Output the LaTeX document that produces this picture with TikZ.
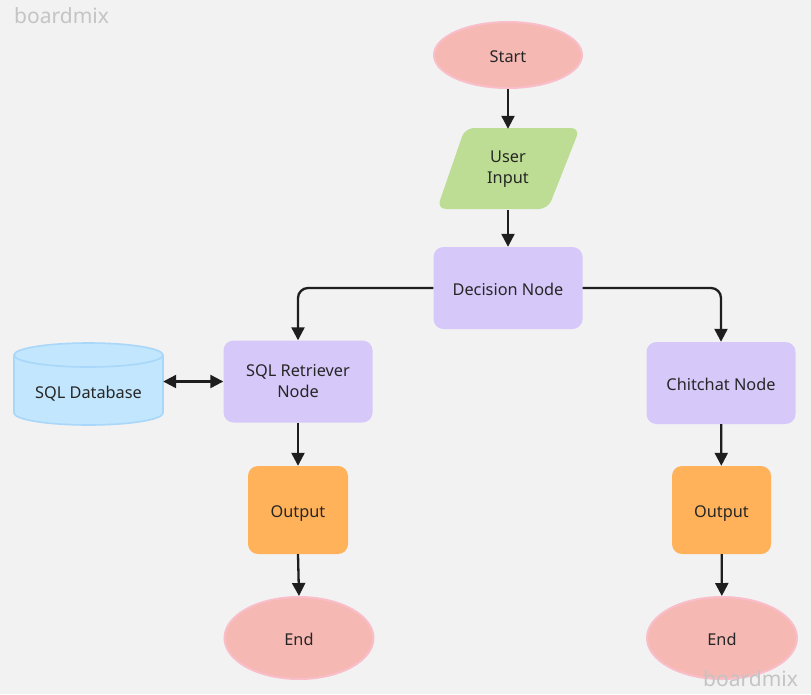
\documentclass[tikz,border=0pt]{standalone}
\usepackage{fontspec}
\setmainfont{Noto Sans}
\usetikzlibrary{arrows.meta,shapes.geometric}
\definecolor{bg}{HTML}{F2F2F2}
\definecolor{ink}{HTML}{262626}
\definecolor{wire}{HTML}{1E1E1E}
\definecolor{termfill}{HTML}{F5B8B3}
\definecolor{termline}{HTML}{F9BECA}
\definecolor{iofill}{HTML}{BEDD94}
\definecolor{procfill}{HTML}{D6C9F9}
\definecolor{outfill}{HTML}{FFB259}
\definecolor{dbfill}{HTML}{C2E6FD}
\definecolor{dbline}{HTML}{A8D7FA}
\definecolor{mark}{HTML}{C4C4C4}
\tikzset{
  x=1pt, y=-1pt,
  every node/.style={font=\fontsize{16.3}{21}\selectfont, text=ink, align=center},
  oneline/.style={text height=15pt, text depth=0.4pt},
  terminal/.style={ellipse, oneline, fill=termfill, draw=termline, line width=2pt,
    minimum width=146pt, minimum height=80pt, inner sep=0pt},
  procbox/.style={rectangle, rounded corners=10pt, fill=procfill,
    minimum width=149pt, minimum height=82pt},
  outbox/.style={rectangle, oneline, rounded corners=10pt, fill=outfill,
    minimum width=100pt, minimum height=88pt},
  plain/.style={inner sep=0pt, minimum width=1pt},
  flow/.style={draw=wire, line width=2.3pt, -{Triangle[length=13pt,width=13pt]}},
  wmark/.style={font=\fontsize{21}{23}\selectfont, text=mark, inner sep=0pt, anchor=base west}
}
\begin{document}
\begin{tikzpicture}
\fill[bg] (0,0) rectangle (811,694);
\useasboundingbox (0,0) rectangle (811,694);

% terminals
\node[terminal, minimum height=66pt, minimum width=148pt] (start) at (508,55) {Start};
\node[terminal, minimum height=82pt, minimum width=149pt] (endL) at (299,638) {End};
\node[terminal, minimum height=82pt, minimum width=150pt] (endR) at (722,638) {End};

% input parallelogram
\fill[iofill, rounded corners=9pt] (465,128) -- (580,128) -- (548,209) -- (437,209) -- cycle;
\node[plain, minimum height=81pt] (input) at (508,169.5) {User\\Input};

% process boxes
\node[procbox, oneline] (dec) at (508,288) {Decision Node};
\node[procbox] (sql) at (298,381.5) {SQL Retriever\\Node};
\node[procbox, oneline] (chat) at (721,383) {Chitchat Node};

% outputs
\node[outbox] (outL) at (298,510) {Output};
\node[outbox, minimum width=99pt] (outR) at (721.5,510) {Output};

% database cylinder
\fill[dbfill, draw=dbline, line width=1.6pt]
  (14,355) -- (14,413) arc[start angle=180, end angle=360, x radius=74.5pt, y radius=12pt]
  -- (163,355) arc[start angle=0, end angle=180, x radius=74.5pt, y radius=12pt] -- cycle;
\draw[dbline, line width=1.6pt] (14,355) arc[start angle=180, end angle=360, x radius=74.5pt, y radius=12pt];
\node[plain, oneline, minimum width=149pt, minimum height=50pt] (db) at (88.5,391) {SQL Database};

% connectors
\draw[flow] (start) -- (input);
\draw[flow] (input) -- (dec);
\draw[flow, rounded corners=10pt] (dec.west) -| (sql.north);
\draw[flow, rounded corners=10pt] (dec.east) -| (chat.north);
\draw[draw=wire, line width=2.3pt, {Triangle[length=13pt,width=13pt]}-{Triangle[length=13pt,width=13pt]}]
  (db.east |- sql.west) -- (sql.west);
\draw[flow] (sql) -- (outL);
\draw[flow] (chat) -- (outR);
\draw[flow] (outL.south) -- (endL.north);
\draw[flow] (outR) -- (endR);

% watermarks
\node[wmark] (wm1) at (14,23) {boardmix};
\node[wmark] (wm2) at (703,686) {boardmix};
\end{tikzpicture}
\end{document}
